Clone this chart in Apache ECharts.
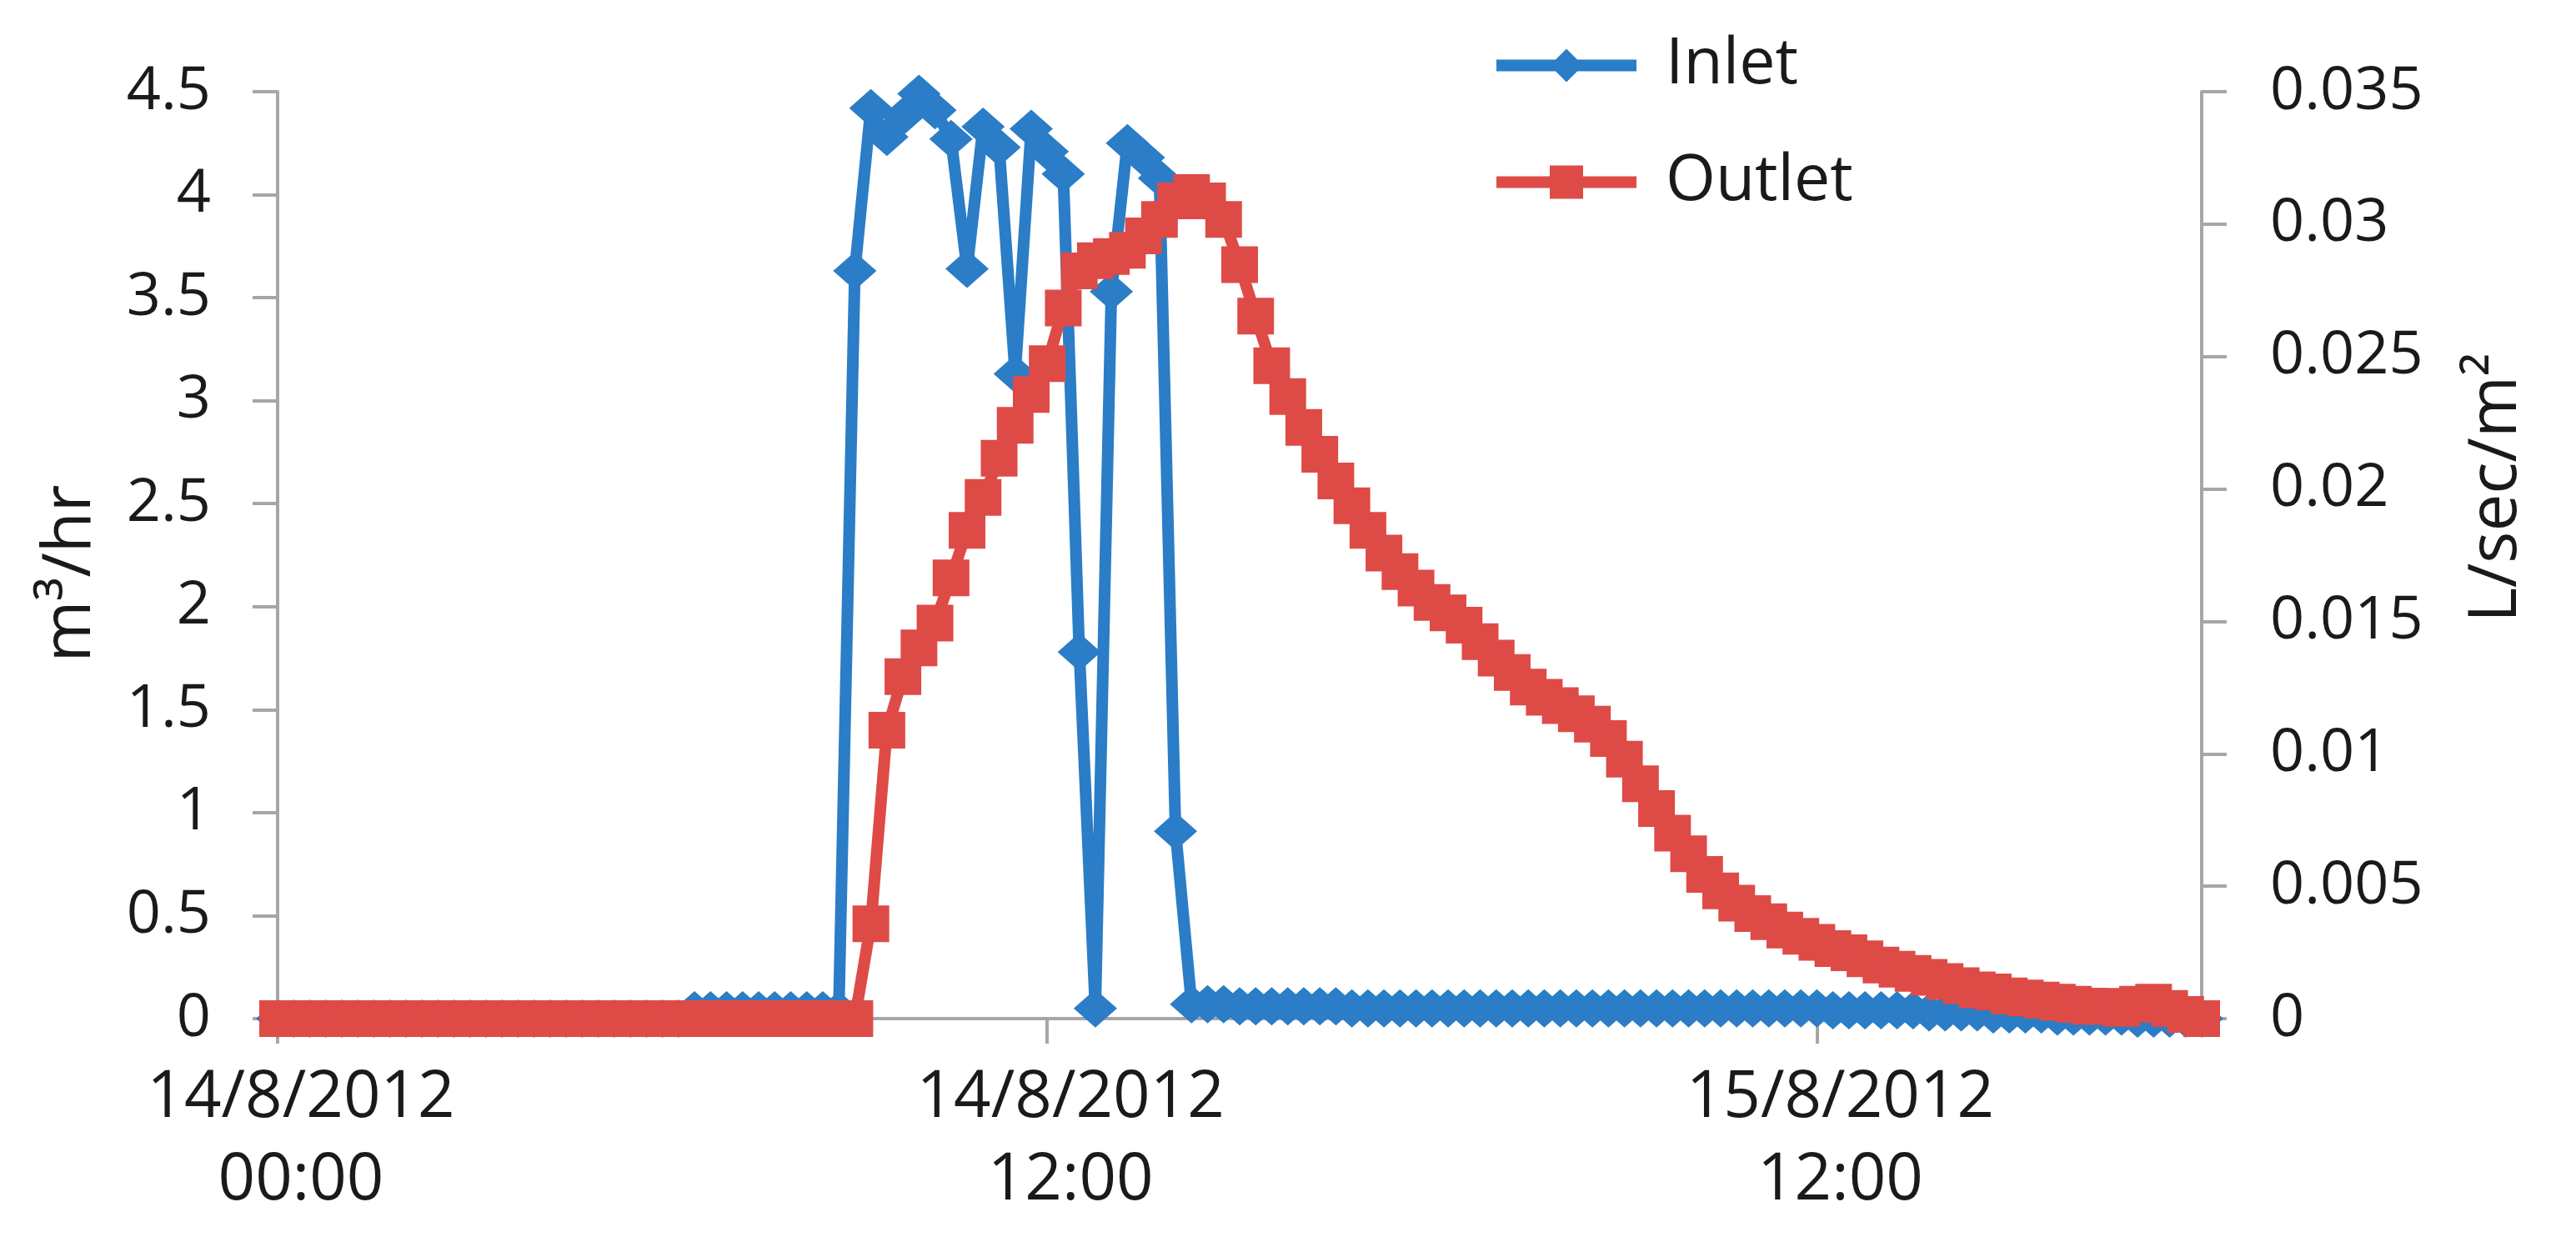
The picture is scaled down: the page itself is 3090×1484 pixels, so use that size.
<!DOCTYPE html>
<html>
<head>
<meta charset="utf-8">
<title>Inlet / Outlet</title>
<script src="https://cdn.jsdelivr.net/npm/echarts@6/dist/echarts.min.js"></script>
<style>
  html, body { margin: 0; padding: 0; background: #fff; }
  #chart { width: 3090px; height: 1484px; }
</style>
</head>
<body>
<div id="chart"></div>
<script>
// 15-minute readings (m3/hr)
var inlet = [
  0, 0, 0, 0, 0, 0, 0, 0, 0, 0,
  0, 0, 0, 0, 0, 0, 0, 0, 0, 0,
  0, 0, 0, 0, 0, 0, 0.04, 0.04, 0.04, 0.04,
  0.04, 0.04, 0.04, 0.04, 0.04, 0.04, 3.63, 4.42, 4.28, 4.38,
  4.49, 4.41, 4.27, 3.64, 4.33, 4.23, 3.13, 4.32, 4.21, 4.10,
  1.78, 0.05, 3.53, 4.25, 4.18, 4.08, 0.91, 0.07, 0.07, 0.07,
  0.06, 0.06, 0.06, 0.06, 0.06, 0.06, 0.06, 0.05, 0.05, 0.05,
  0.05, 0.05, 0.05, 0.05, 0.05, 0.05, 0.05, 0.05, 0.05, 0.05,
  0.05, 0.05, 0.05, 0.05, 0.05, 0.05, 0.05, 0.05, 0.05, 0.05,
  0.05, 0.05, 0.05, 0.05, 0.05, 0.05, 0.05, 0.04, 0.04, 0.04,
  0.04, 0.04, 0.04, 0.03, 0.03, 0.03, 0.03, 0.02, 0.02, 0.02,
  0.02, 0.01, 0.01, 0.01, 0.01, 0.01, 0, 0, 0, 0,
  0
];
var outlet = [
  0, 0, 0, 0, 0, 0, 0, 0, 0, 0,
  0, 0, 0, 0, 0, 0, 0, 0, 0, 0,
  0, 0, 0, 0, 0, 0, 0, 0, 0, 0,
  0, 0, 0, 0, 0, 0, 0, 0.46, 1.40, 1.66,
  1.80, 1.92, 2.14, 2.37, 2.53, 2.72, 2.88, 3.03, 3.18, 3.45,
  3.63, 3.68, 3.70, 3.73, 3.80, 3.88, 3.97, 4.01, 3.97, 3.88,
  3.66, 3.41, 3.17, 3.02, 2.87, 2.74, 2.61, 2.49, 2.37, 2.26,
  2.17, 2.09, 2.02, 1.97, 1.91, 1.83, 1.75, 1.68, 1.61, 1.56,
  1.52, 1.48, 1.43, 1.36, 1.26, 1.14, 1.02, 0.90, 0.80, 0.70,
  0.62, 0.56, 0.51, 0.47, 0.43, 0.40, 0.37, 0.34, 0.32, 0.29,
  0.26, 0.24, 0.22, 0.20, 0.18, 0.16, 0.14, 0.13, 0.11, 0.10,
  0.09, 0.08, 0.07, 0.06, 0.06, 0.05, 0.07, 0.08, 0.05, 0.02,
  0
];
var times = inlet.map(function (v, i) { return String(i); });
var tickIndex = [0, 48, 96];
var tickLabels = ['14/8/2012\n00:00', '14/8/2012\n12:00', '15/8/2012\n12:00'];

var axisColor = '#a6a6a6';
var textColor = '#1a1a1a';
var fontName = 'Open Sans';
var blue = '#2a7dc6';
var red = '#de4b47';

var myChart = echarts.init(document.getElementById('chart'));

var option = {
  backgroundColor: '#fff',
  animation: false,
  textStyle: { fontFamily: fontName },
  legend: {
    orient: 'vertical',
    left: 1783,
    top: 35,
    itemWidth: 168,
    itemHeight: 50,
    itemGap: 63,
    data: ['Inlet', 'Outlet'],
    lineStyle: { width: 14 },
    textStyle: {
      fontSize: 77,
      lineHeight: 77,
      color: textColor,
      fontFamily: fontName,
      padding: [0, 0, 0, 30]
    }
  },
  grid: {
    left: 333,
    right: 449,
    top: 110,
    bottom: 262
  },
  xAxis: {
    type: 'category',
    data: times,
    boundaryGap: false,
    axisLine: { lineStyle: { color: axisColor, width: 4 } },
    axisTick: {
      show: true,
      length: 30,
      interval: function (i) { return tickIndex.indexOf(i) >= 0; },
      lineStyle: { color: axisColor, width: 4 }
    },
    axisLabel: {
      interval: function (i) { return tickIndex.indexOf(i) >= 0; },
      formatter: function (v, i) {
        var k = tickIndex.indexOf(i);
        return k >= 0 ? tickLabels[k] : '';
      },
      margin: 46,
      fontSize: 78,
      lineHeight: 99,
      padding: [0, 0, 0, 56],
      color: textColor,
      fontFamily: fontName
    },
    splitLine: { show: false }
  },
  yAxis: [
    {
      type: 'value',
      position: 'left',
      min: 0,
      max: 4.5,
      interval: 0.5,
      name: 'm³/hr',
      nameLocation: 'middle',
      nameGap: 208,
      nameTextStyle: {
        fontSize: 80,
        color: textColor,
        fontFamily: fontName,
        padding: [0, 44, 0, 0]
      },
      axisLine: { show: true, lineStyle: { color: axisColor, width: 4 } },
      axisTick: { show: true, length: 30, lineStyle: { color: axisColor, width: 4 } },
      axisLabel: { margin: 80, fontSize: 72, color: textColor, fontFamily: fontName },
      splitLine: { show: false }
    },
    {
      type: 'value',
      position: 'right',
      min: 0,
      max: 0.035,
      interval: 0.005,
      name: 'L/sec/m²',
      nameLocation: 'middle',
      nameGap: 314,
      nameTextStyle: {
        fontSize: 80,
        color: textColor,
        fontFamily: fontName,
        padding: [0, 0, 0, 162]
      },
      axisLine: { show: true, lineStyle: { color: axisColor, width: 4 } },
      axisTick: { show: true, length: 30, lineStyle: { color: axisColor, width: 4 } },
      axisLabel: { margin: 82, fontSize: 72, color: textColor, fontFamily: fontName },
      splitLine: { show: false }
    }
  ],
  series: [
    {
      name: 'Inlet',
      type: 'line',
      yAxisIndex: 0,
      data: inlet,
      symbol: 'diamond',
      symbolSize: [52, 46],
      showAllSymbol: true,
      lineStyle: { color: blue, width: 14 },
      itemStyle: { color: blue }
    },
    {
      name: 'Outlet',
      type: 'line',
      yAxisIndex: 0,
      data: outlet,
      symbol: 'rect',
      symbolSize: 44,
      showAllSymbol: true,
      lineStyle: { color: red, width: 14 },
      itemStyle: { color: red }
    }
  ]
};

myChart.setOption(option);
</script>
</body>
</html>
